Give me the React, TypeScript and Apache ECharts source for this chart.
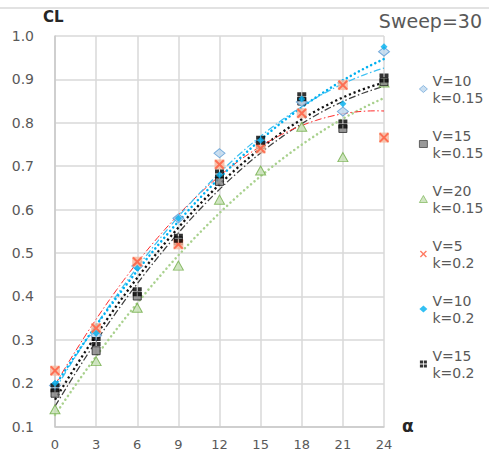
import React, { useEffect, useRef } from "react";
import * as echarts from "echarts";

const alpha = [0, 3, 6, 9, 12, 15, 18, 21, 24];
const v10k015 = [0.195, 0.31, 0.47, 0.58, 0.73, 0.755, 0.848, 0.826, 0.964];
const v15k015 = [0.177, 0.275, 0.401, 0.528, 0.665, 0.75, 0.85, 0.787, 0.895];
const v20k015 = [0.14, 0.251, 0.374, 0.471, 0.623, 0.69, 0.791, 0.721, 0.893];
const v5k02 = [0.229, 0.327, 0.48, 0.52, 0.704, 0.741, 0.822, 0.887, 0.766];
const v10k02 = [0.2, 0.315, 0.465, 0.58, 0.68, 0.76, 0.855, 0.844, 0.975];
const v15k02 = [0.19, 0.296, 0.411, 0.534, 0.682, 0.76, 0.86, 0.797, 0.903];
const names = ["V=10 k=0.15", "V=15 k=0.15", "V=20 k=0.15", "V=5 k=0.2", "V=10 k=0.2", "V=15 k=0.2"];
const yTicks = { min: 0.1, max: 1.0, interval: 0.1 };
const xTicks = { min: 0, max: 24, interval: 3 };

// quadratic least-squares trendline (as the chart's polynomial trendlines)
function trend(xs: number[], ys: number[]) {
  let s = [0, 0, 0, 0, 0];
  let t = [0, 0, 0];
  xs.forEach((x, i) => {
    for (let k = 0; k < 5; k++) s[k] += Math.pow(x, k);
    for (let k = 0; k < 3; k++) t[k] += ys[i] * Math.pow(x, k);
  });
  const A = [
    [s[0], s[1], s[2], t[0]],
    [s[1], s[2], s[3], t[1]],
    [s[2], s[3], s[4], t[2]],
  ];
  for (let i = 0; i < 3; i++) {
    for (let j = i + 1; j < 3; j++) {
      const f = A[j][i] / A[i][i];
      for (let k = i; k < 4; k++) A[j][k] -= f * A[i][k];
    }
  }
  const c = [0, 0, 0];
  for (let i = 2; i >= 0; i--) {
    let v = A[i][3];
    for (let k = i + 1; k < 3; k++) v -= A[i][k] * c[k];
    c[i] = v / A[i][i];
  }
  const out: number[][] = [];
  const x0 = xs[0];
  const x1 = xs[xs.length - 1];
  for (let x = x0; x <= x1 + 1e-9; x += 0.5) out.push([x, c[0] + c[1] * x + c[2] * x * x]);
  return out;
}

const pts = (ys: number[]) => alpha.map((a, i) => [a, ys[i]]);

const X_PATH = "path://M0,1.4 L1.4,0 L5,3.6 L8.6,0 L10,1.4 L6.4,5 L10,8.6 L8.6,10 L5,6.4 L1.4,10 L0,8.6 L3.6,5 Z";
const GRID4 = "path://M0,0h4v4h-4z M5,0h4v4h-4z M0,5h4v4h-4z M5,5h4v4h-4z";

export default function App() {
  const ref = useRef<HTMLDivElement>(null);
  useEffect(() => {
    if (!ref.current) return;
    const chart = echarts.init(ref.current, undefined, { renderer: "svg" });
    const lineSeries = (data: number[], color: string, width: number, type: any, cap: any) => ({
      type: "line",
      data: trend(alpha, data),
      showSymbol: false,
      symbol: "none",
      smooth: false,
      z: 1,
      silent: true,
      lineStyle: { color, width, type, cap },
    });
    const markerSeries = (name: string, data: number[], symbol: string, size: any, itemStyle: any, z = 3) => ({
      type: "scatter",
      name,
      data: pts(data),
      symbol,
      symbolSize: size,
      itemStyle,
      z,
    });
    chart.setOption({
      animation: false,
      backgroundColor: "#ffffff",
      textStyle: { fontFamily: "DejaVu Sans" },
      grid: { left: 55, right: 105, top: 36, bottom: 25.3, containLabel: false },
      xAxis: {
        type: "value",
        ...xTicks,
        axisLine: { show: true, lineStyle: { color: "#C9C9C9", width: 1.5 } },
        axisTick: { show: false },
        axisLabel: { color: "#595959", fontSize: 13, margin: 11, fontFamily: "DejaVu Sans" },
        splitLine: { show: true, lineStyle: { color: "#D9D9D9", width: 1.5 } },
      },
      yAxis: {
        type: "value",
        ...yTicks,
        axisLine: { show: true, lineStyle: { color: "#C9C9C9", width: 1.5 } },
        axisTick: { show: false },
        axisLabel: {
          color: "#595959",
          fontSize: 14,
          margin: 21,
          fontFamily: "DejaVu Sans",
          formatter: (v: number) => v.toFixed(1),
        },
        splitLine: { show: true, lineStyle: { color: "#D9D9D9", width: 1.5 } },
      },
      legend: {
        orient: "vertical",
        left: 414,
        top: 58.5,
        itemWidth: 8,
        itemHeight: 7,
        itemGap: 4,
        itemStyle: { borderWidth: 0.8 },
        data: names,
        formatter: (n: string) => n.replace(" ", "\n"),
        textStyle: {
          color: "#595959",
          fontSize: 14,
          lineHeight: 17,
          padding: [17, 0, 0, 0],
          fontFamily: "DejaVu Sans",
        },
      },
      graphic: [
        { type: "line", shape: { x1: 0, y1: 8, x2: 489, y2: 8 }, style: { stroke: "#D9D9D9", lineWidth: 1.5 } },
        {
          type: "text",
          left: 43,
          top: 9,
          style: { text: "CL", font: "bold 15px 'DejaVu Sans'", fill: "#262626" },
        },
        {
          type: "text",
          right: 7,
          top: 11,
          style: { text: "Sweep=30", font: "19px 'DejaVu Sans'", fill: "#595959" },
        },
        {
          type: "text",
          left: 402,
          top: 417,
          style: { text: "α", font: "bold 17px 'DejaVu Sans'", fill: "#262626" },
        },
      ],
      series: [
        lineSeries(v20k015, "#A9D18E", 2.5, [0.1, 4.5], "round"),
        lineSeries(v15k02, "#111111", 2.25, [2.2, 2.8], "butt"),
        lineSeries(v15k015, "#404040", 1.25, [7, 2.5, 1.5, 2.5], "butt"),
        lineSeries(v5k02, "#FF2A2A", 1, [7, 2.5, 1.5, 2.5], "butt"),
        lineSeries(v10k015, "#3EC1F3", 1.25, [7, 2.5, 1.5, 2.5], "butt"),
        lineSeries(v10k02, "#00B0F0", 2.5, [0.1, 4.5], "round"),
        markerSeries(names[2], v20k015, "triangle", [10, 9], { color: "#C5E0B4", borderColor: "#70AD47", borderWidth: 1 }),
        markerSeries(names[1], v15k015, "rect", 8, { color: "#7F7F7F", borderColor: "#262626", borderWidth: 1 }),
        markerSeries(names[0], v10k015, "diamond", [11, 9], { color: "#BDD7EE", borderColor: "#5B9BD5", borderWidth: 1 }),
        { type: "scatter", name: "_bg", data: pts(v5k02), symbol: "rect", symbolSize: 10, itemStyle: { color: "#F7B59A" }, z: 3, legendHoverLink: false },
        markerSeries(names[3], v5k02, X_PATH, 10, { color: "#FF5A3C" }, 4),
        markerSeries(names[5], v15k02, GRID4, 9, { color: "#000000" }, 4),
        markerSeries(names[4], v10k02, "diamond", 7, { color: "#00B0F0" }, 5),
      ],
    });
    return () => chart.dispose();
  }, []);
  return <div ref={ref} style={{ width: 489, height: 452, position: "absolute", left: 0, top: 0 }} />;
}
